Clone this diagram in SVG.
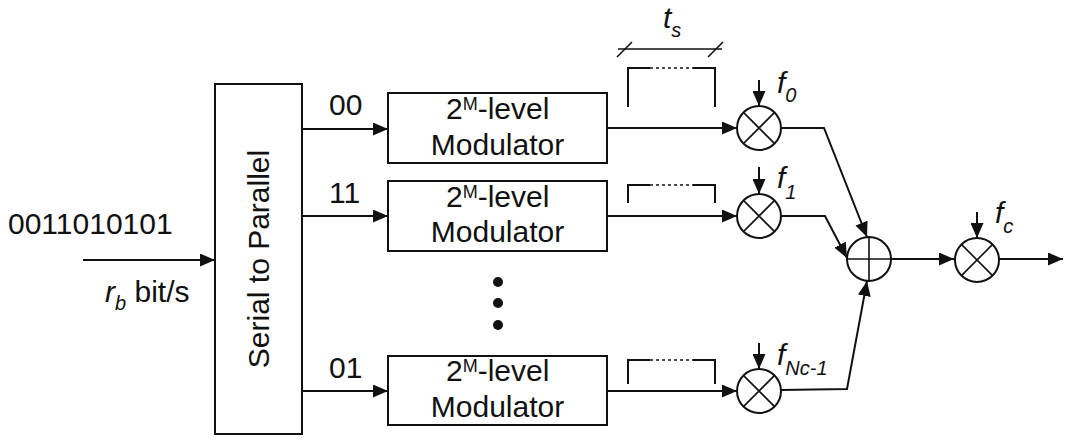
<svg xmlns="http://www.w3.org/2000/svg" width="1083" height="447" viewBox="0 0 1083 447">
<style>
text{font-family:"Liberation Sans",Arial,sans-serif;fill:#111;}
.t{font-size:30px;}
.sub{font-size:20px;}
.sup{font-size:18px;}
.it{font-style:italic;}
.box{fill:#fff;stroke:#111;stroke-width:2;}
.ln{fill:none;stroke:#111;stroke-width:2;}
.thin{fill:none;stroke:#111;stroke-width:1.6;}
.dot{fill:none;stroke:#111;stroke-width:1.6;stroke-dasharray:3 3;}
.arr{fill:none;stroke:#111;stroke-width:2;marker-end:url(#ah);}
</style>
<defs>
<marker id="ah" markerUnits="userSpaceOnUse" markerWidth="15" markerHeight="13" refX="15" refY="6.5" orient="auto">
<path d="M0,0 L15,6.5 L0,13 z" fill="#111"/>
</marker>
</defs>
<rect width="1083" height="447" fill="#fff"/>

<g id="connectors">
<line class="arr" x1="83" y1="260" x2="215" y2="260"/>
<line class="arr" x1="302" y1="129" x2="388" y2="129"/>
<line class="arr" x1="302" y1="216" x2="388" y2="216"/>
<line class="arr" x1="302" y1="391" x2="388" y2="391"/>
<line class="arr" x1="607" y1="128" x2="737" y2="128"/>
<line class="arr" x1="607" y1="216" x2="737" y2="216"/>
<line class="arr" x1="607" y1="391" x2="737" y2="391"/>
<line class="arr" x1="759" y1="80" x2="759" y2="106"/>
<line class="arr" x1="759" y1="167" x2="759" y2="194"/>
<line class="arr" x1="759" y1="343" x2="759" y2="369"/>
<line class="arr" x1="977" y1="212" x2="977" y2="238"/>
<polyline class="arr" points="781,128 824,128 867,237"/>
<polyline class="arr" points="781,216 825,216 847,258"/>
<polyline class="arr" points="781,390 847,389 867,281"/>
<line class="arr" x1="891" y1="259" x2="954" y2="259"/>
<line class="arr" x1="999" y1="259" x2="1063" y2="259"/>
</g>

<g id="input-label">
<text class="t" x="8" y="234">0011010101</text>
<text class="t" x="105" y="302"><tspan class="it">r</tspan><tspan class="sub it" dy="8">b</tspan><tspan dy="-8"> bit/s</tspan></text>
</g>

<g id="serial-to-parallel">
<rect class="box" x="215" y="84" width="87" height="350"/>
<text class="t" text-anchor="middle" transform="translate(269,259) rotate(-90)">Serial to Parallel</text>
</g>

<g id="labels-bits">
<text class="t" x="329" y="115">00</text>
<text class="t" x="329" y="203">11</text>
<text class="t" x="329" y="378">01</text>
</g>

<g id="mod-0">
<rect class="box" x="388" y="93" width="219" height="70"/>
<text class="t" x="446" y="119">2<tspan class="sup" dy="-9">M</tspan><tspan dy="9">-level</tspan></text>
<text class="t" x="497.5" y="155" text-anchor="middle">Modulator</text>
</g>
<g id="mod-1">
<rect class="box" x="388" y="181" width="219" height="70"/>
<text class="t" x="446" y="207">2<tspan class="sup" dy="-9">M</tspan><tspan dy="9">-level</tspan></text>
<text class="t" x="497.5" y="242" text-anchor="middle">Modulator</text>
</g>
<g id="mod-n">
<rect class="box" x="388" y="356" width="219" height="69"/>
<text class="t" x="446" y="381">2<tspan class="sup" dy="-9">M</tspan><tspan dy="9">-level</tspan></text>
<text class="t" x="497.5" y="417" text-anchor="middle">Modulator</text>
</g>

<g id="ellipsis">
<circle cx="498" cy="282" r="5" fill="#111"/>
<circle cx="498" cy="303" r="5" fill="#111"/>
<circle cx="498" cy="325" r="5" fill="#111"/>
</g>

<g id="ts-marker">
<line class="thin" x1="618" y1="49" x2="722" y2="49"/>
<line class="thin" x1="617" y1="57" x2="632" y2="42"/>
<line class="thin" x1="708" y1="57" x2="723" y2="42"/>
<text class="t it" x="663" y="28">t<tspan class="sub" dy="9">s</tspan></text>
</g>

<g id="pulse-0">
<polyline class="ln" points="628,107 628,68 650,68"/>
<line class="dot" x1="650" y1="68" x2="693" y2="68"/>
<polyline class="ln" points="693,68 715,68 715,107"/>
</g>
<g id="pulse-1">
<polyline class="ln" points="628,203 628,185 650,185"/>
<line class="dot" x1="650" y1="185" x2="693" y2="185"/>
<polyline class="ln" points="693,185 715,185 715,203"/>
</g>
<g id="pulse-n">
<polyline class="ln" points="628,384 628,360 650,360"/>
<line class="dot" x1="650" y1="360" x2="693" y2="360"/>
<polyline class="ln" points="693,360 715,360 715,384"/>
</g>

<g id="mixer-0">
<circle class="ln" cx="759" cy="128" r="22"/>
<path class="thin" d="M743.4,112.4 L774.6,143.6 M774.6,112.4 L743.4,143.6"/>
<text class="t it" x="777" y="93">f<tspan class="sub" dy="9">0</tspan></text>
</g>
<g id="mixer-1">
<circle class="ln" cx="759" cy="216" r="22"/>
<path class="thin" d="M743.4,200.4 L774.6,231.6 M774.6,200.4 L743.4,231.6"/>
<text class="t it" x="777" y="188">f<tspan class="sub" dy="11">1</tspan></text>
</g>
<g id="mixer-n">
<circle class="ln" cx="759" cy="391" r="22"/>
<path class="thin" d="M743.4,375.4 L774.6,406.6 M774.6,375.4 L743.4,406.6"/>
<text class="t it" x="777" y="365">f<tspan class="sub" dy="10">Nc-1</tspan></text>
</g>

<g id="adder">
<circle class="ln" cx="869" cy="259" r="22"/>
<path class="thin" d="M847,259 L891,259 M869,237 L869,281"/>
</g>

<g id="mixer-c">
<circle class="ln" cx="977" cy="260" r="22"/>
<path class="thin" d="M961.4,244.4 L992.6,275.6 M992.6,244.4 L961.4,275.6"/>
<text class="t it" x="995" y="223">f<tspan class="sub" dy="10">c</tspan></text>
</g>
</svg>
